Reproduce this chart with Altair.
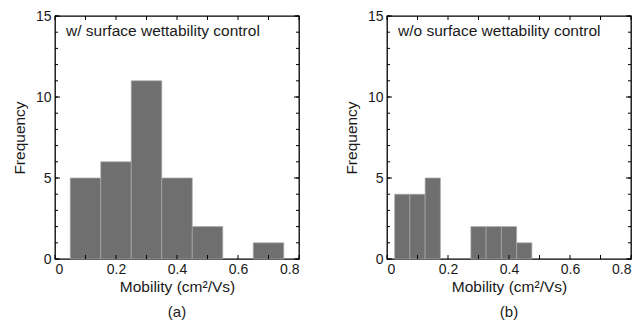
import altair as alt
import pandas as pd

# Panel (a): w/ surface wettability control
a_bin_start = [0.05, 0.15, 0.25, 0.35, 0.45, 0.65]
a_bin_end = [0.15, 0.25, 0.35, 0.45, 0.55, 0.75]
a_counts = [5, 6, 11, 5, 2, 1]

# Panel (b): w/o surface wettability control
b_bin_start = [0.025, 0.075, 0.125, 0.275, 0.325, 0.375, 0.425]
b_bin_end = [0.075, 0.125, 0.175, 0.325, 0.375, 0.425, 0.475]
b_counts = [4, 4, 5, 2, 2, 2, 1]

x_label_values = [0, 0.2, 0.4, 0.6, 0.8]
x_tick_values = [0, 0.1, 0.2, 0.3, 0.4, 0.5, 0.6, 0.7, 0.8]
y_label_values = [0, 5, 10, 15]
y_minor_values = list(range(0, 16))

W, H = 244, 243
FONT = "Liberation Sans"
TXT = "#1a1a1a"
BAR = "#6f6f6f"

xscale = alt.Scale(domain=[0, 0.8], nice=False, zero=False)
yscale = alt.Scale(domain=[0, 15], nice=False)


def panel(starts, ends, counts, label, letter):
    df = pd.DataFrame({"start": starts, "end": ends, "count": counts})
    bars = alt.Chart(df).mark_rect(
        color=BAR, stroke="#a9a9a9", strokeWidth=0.7
    ).encode(
        x=alt.X("start:Q", scale=xscale,
                axis=alt.Axis(values=x_label_values, ticks=False, domain=False,
                              grid=False, labelPadding=3, title="Mobility (cm²/Vs)",
                              titlePadding=3,
                              labelExpr="datum.value == 0 ? '0' : format(datum.value, '.1f')")),
        x2="end:Q",
        y=alt.Y("count:Q", scale=yscale,
                axis=alt.Axis(values=y_label_values, ticks=False, domain=False, grid=False,
                              labelPadding=4, title="Frequency", titlePadding=8)),
        y2=alt.datum(0),
    )
    xt = pd.DataFrame({"v": x_tick_values})
    yt = pd.DataFrame({"v": y_minor_values})
    ym = pd.DataFrame({"v": y_label_values})
    bottom_ticks = alt.Chart(xt).mark_rule(color="black", strokeWidth=1).encode(
        x=alt.X("v:Q", scale=xscale), y=alt.value(H), y2=alt.value(H - 4))
    top_ticks = alt.Chart(xt).mark_rule(color="black", strokeWidth=1).encode(
        x=alt.X("v:Q", scale=xscale), y=alt.value(0), y2=alt.value(4))
    left_minor = alt.Chart(yt).mark_rule(color="black", strokeWidth=1).encode(
        y=alt.Y("v:Q", scale=yscale), x=alt.value(0), x2=alt.value(3))
    right_minor = alt.Chart(yt).mark_rule(color="black", strokeWidth=1).encode(
        y=alt.Y("v:Q", scale=yscale), x=alt.value(W), x2=alt.value(W - 3))
    left_major = alt.Chart(ym).mark_rule(color="black", strokeWidth=1).encode(
        y=alt.Y("v:Q", scale=yscale), x=alt.value(0), x2=alt.value(5))
    right_major = alt.Chart(ym).mark_rule(color="black", strokeWidth=1).encode(
        y=alt.Y("v:Q", scale=yscale), x=alt.value(W), x2=alt.value(W - 5))
    txt = alt.Chart(pd.DataFrame({"t": [label]})).mark_text(
        align="left", baseline="middle", font=FONT, fontSize=15.5, color=TXT
    ).encode(text="t:N", x=alt.value(11), y=alt.value(15))
    return alt.layer(bars, bottom_ticks, top_ticks, left_minor, right_minor,
                     left_major, right_major, txt).properties(
        width=W, height=H,
        title=alt.TitleParams(letter, orient="bottom", fontSize=15, font=FONT,
                              fontWeight="normal", color=TXT, offset=10),
    )


pa = panel(a_bin_start, a_bin_end, a_counts, "w/ surface wettability control", "(a)")
pb = panel(b_bin_start, b_bin_end, b_counts, "w/o surface wettability control", "(b)")

chart = alt.hconcat(pa, pb, spacing=42).properties(
    padding={"left": 3, "top": 0, "right": 0, "bottom": 0}
).configure_view(
    stroke="black", strokeWidth=1.3
).configure_axis(
    labelFont=FONT, titleFont=FONT, labelFontSize=14, titleFontSize=15.5,
    labelColor=TXT, titleColor=TXT, titleFontWeight="normal"
)

chart.save("out.html", embed_options={"renderer": "svg", "actions": False})
